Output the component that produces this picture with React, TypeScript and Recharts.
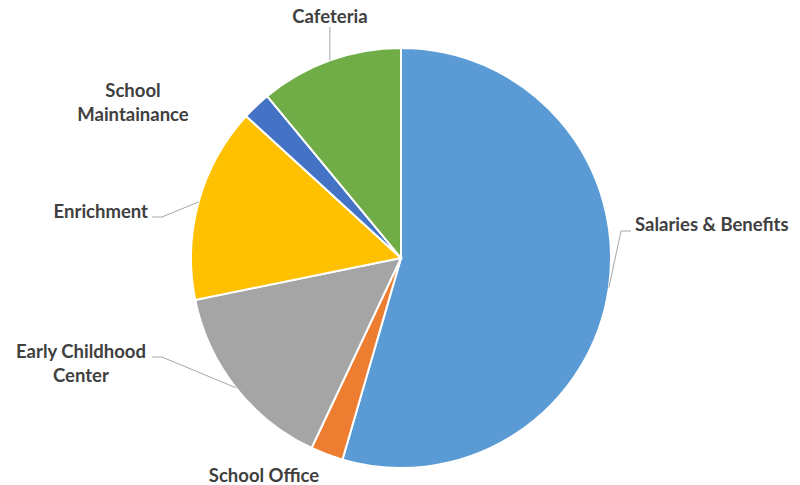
import React from 'react';
import { PieChart, Pie, Cell } from 'recharts';

const categories = ['Salaries & Benefits', 'School Office', 'Early Childhood Center', 'Enrichment', 'School Maintainance', 'Cafeteria'];
const values = [54.5, 2.5, 14.8, 15.0, 2.2, 11.0];
const labelLines = [['Salaries & Benefits'], ['School Office'], ['Early Childhood', 'Center'], ['Enrichment'], ['School', 'Maintainance'], ['Cafeteria']];

const colors = ['#5B9BD5', '#ED7D31', '#A5A5A5', '#FFC000', '#4472C4', '#70AD47'];

type Layout = { dx: number; dy: number; anchor: 'start' | 'middle' | 'end'; leader?: { x: number; y: number; vertical?: boolean } };
const layouts: Layout[] = [
  { dx: 234, dy: -34, anchor: 'start', leader: { x: 230, y: -27 } },
  { dx: -137, dy: 217, anchor: 'middle' },
  { dx: -320, dy: 93, anchor: 'middle', leader: { x: -249, y: 99 } },
  { dx: -253, dy: -47, anchor: 'end', leader: { x: -249, y: -41 } },
  { dx: -268, dy: -168, anchor: 'middle' },
  { dx: -71, dy: -242, anchor: 'middle', leader: { x: -71, y: -231, vertical: true } },
];

const data = categories.map((name, i) => ({ name, value: values[i] }));
const RAD = Math.PI / 180;

const renderLabel = (props: any) => {
  const { cx, cy, midAngle, outerRadius, index } = props;
  const lay = layouts[index];
  const mx = cx + Math.cos(-midAngle * RAD) * outerRadius;
  const my = cy + Math.sin(-midAngle * RAD) * outerRadius;
  let line: React.ReactNode = null;
  if (lay.leader) {
    const ex = cx + lay.leader.x;
    const ey = cy + lay.leader.y;
    let pts: string;
    if (lay.leader.vertical) {
      pts = `${mx},${my} ${mx},${ey}`;
    } else {
      const dir = ex > cx ? -1 : 1;
      const bx = ex + dir * 10;
      pts = `${mx},${my} ${bx},${ey} ${ex},${ey}`;
    }
    line = <polyline points={pts} fill="none" stroke="#A6A6A6" strokeWidth={1} />;
  }
  const tx = cx + lay.dx;
  const ty = cy + lay.dy;
  return (
    <g key={`lbl-${index}`}>
      {line}
      <text
        x={tx}
        y={ty}
        textAnchor={lay.anchor}
        dominantBaseline="central"
        fill="#404040"
        fontFamily="Lato, 'Open Sans', sans-serif"
        fontWeight={700}
        fontSize={18.5}
      >
        {labelLines[index].map((t, k) => (
          <tspan key={k} x={tx} dy={k === 0 ? 0 : 24}>
            {t}
          </tspan>
        ))}
      </text>
    </g>
  );
};

export default function App() {
  return (
    <div style={{ position: 'absolute', left: 0, top: 0, width: 800, height: 485, background: '#fff' }}>
      <PieChart width={800} height={485} margin={{ top: 0, right: 0, bottom: 0, left: 0 }}>
        <Pie
          data={data}
          dataKey="value"
          nameKey="name"
          cx={401}
          cy={258}
          outerRadius={210}
          startAngle={90}
          endAngle={-270}
          stroke="#FFFFFF"
          strokeWidth={2}
          labelLine={false}
          label={renderLabel}
          isAnimationActive={false}
        >
          {data.map((d, i) => (
            <Cell key={d.name} fill={colors[i]} />
          ))}
        </Pie>
      </PieChart>
    </div>
  );
}
